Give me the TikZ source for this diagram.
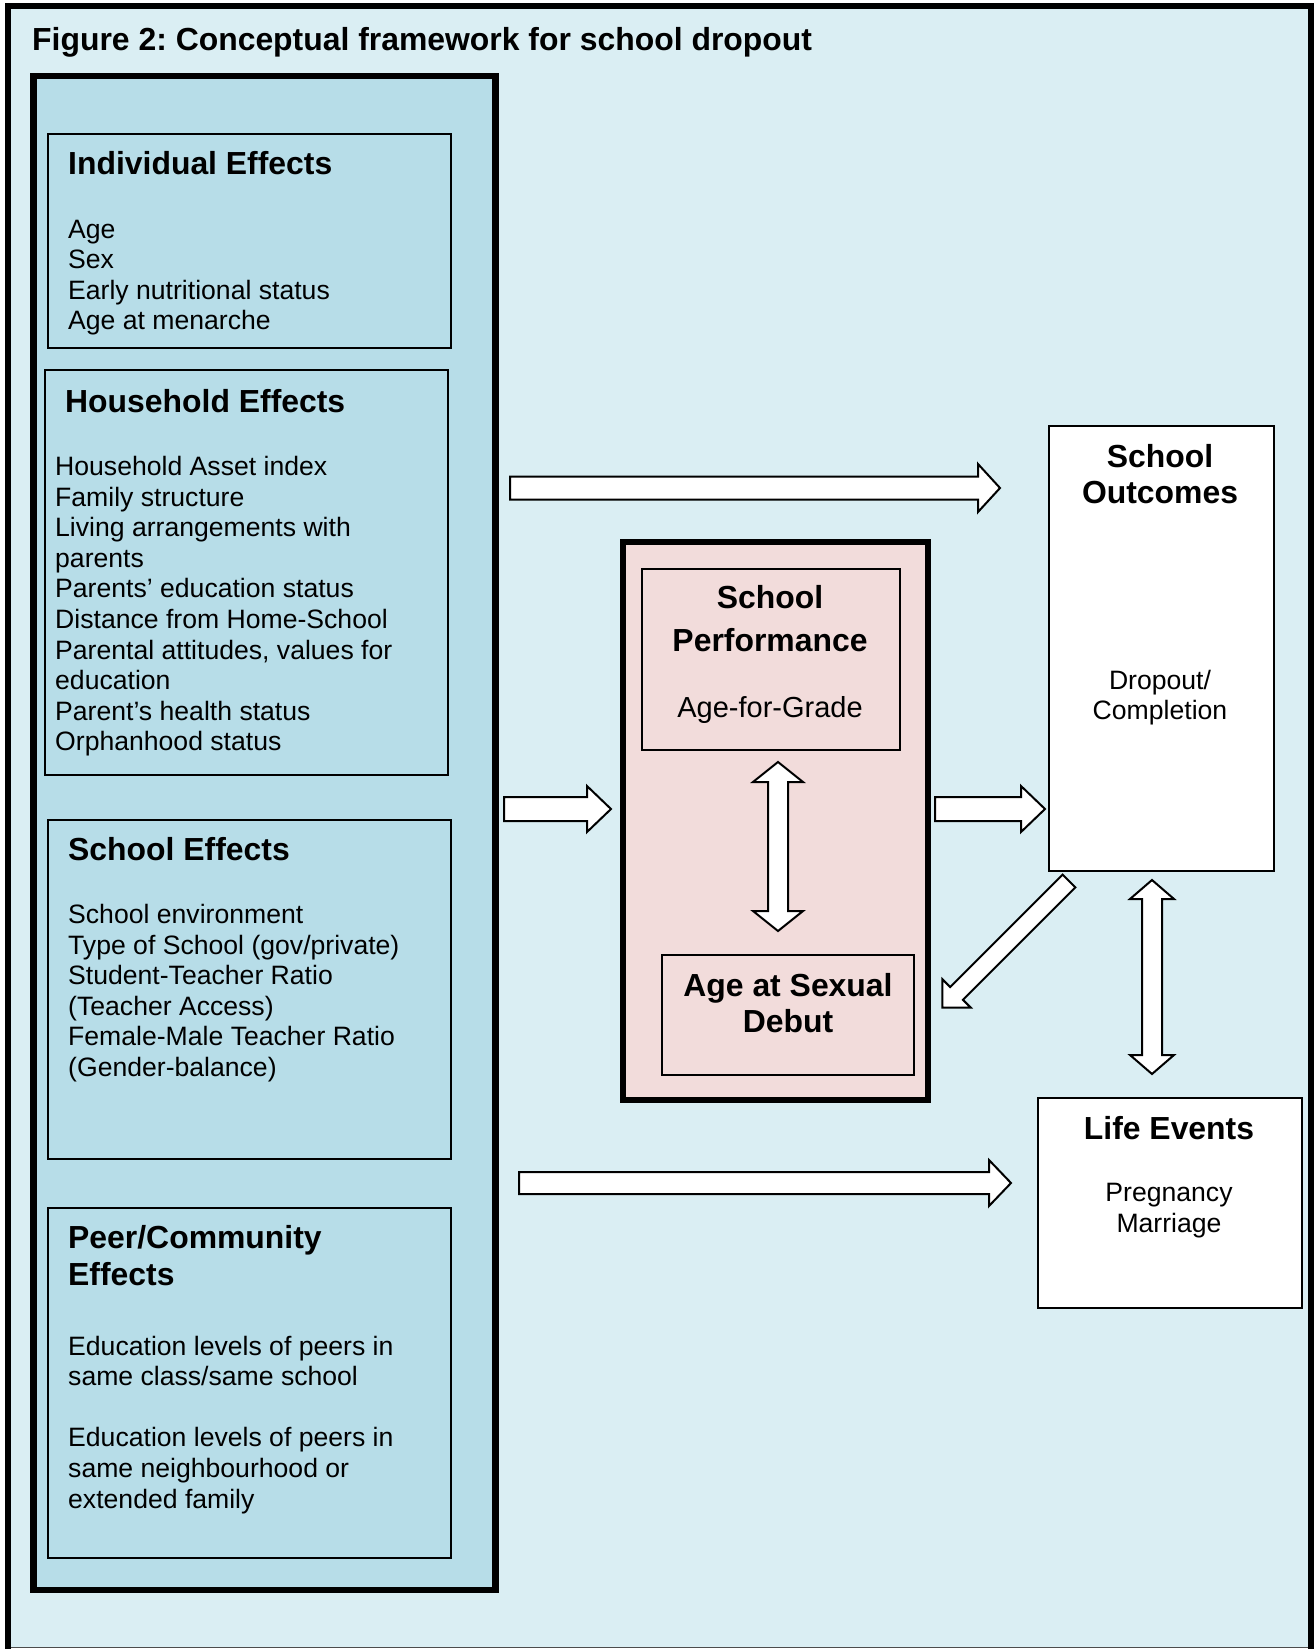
\documentclass[tikz,border=0pt]{standalone}
\usepackage{fontspec}
\setmainfont{Liberation Sans}
\frenchspacing
\definecolor{outerblue}{HTML}{DAEEF3}
\definecolor{innerblue}{HTML}{B7DDE8}
\definecolor{pinkfill}{HTML}{F2DCDB}
\newcommand\myhead{\fontsize{31.9}{36.7}\selectfont\bfseries}
\newcommand\mybody{\fontsize{26.6}{30.6}\selectfont}
\newcommand\leftpar[1]{\parbox[t]{420pt}{\raggedright #1}}
\newcommand\midpar[1]{\parbox[t]{300pt}{\centering #1}}
\tikzset{
  thinbox/.style={draw=black, line width=2pt, anchor=north west, inner sep=0pt},
  txt/.style={inner sep=0pt, anchor=base west},
  ctxt/.style={inner sep=0pt, anchor=base},
  arrowline/.style={draw=black, line width=2pt, fill=white, line join=miter}
}
% single block arrow: tail coordinate, angle, length, shaft half, head half, head length
\newcommand\blockarrow[6]{%
  \begin{scope}[shift={(#1)}, rotate=#2]
    \draw[arrowline] (0,-#4) -- ({#3-#6},-#4) -- ({#3-#6},-#5) -- (#3,0)
      -- ({#3-#6},#5) -- ({#3-#6},#4) -- (0,#4) -- cycle;
  \end{scope}}
% double block arrow: first tip coordinate, angle, length, shaft half, head half, head length
\newcommand\doublearrow[6]{%
  \begin{scope}[shift={(#1)}, rotate=#2]
    \draw[arrowline] (0,0) -- (#6,-#5) -- (#6,-#4) -- ({#3-#6},-#4) -- ({#3-#6},-#5)
      -- (#3,0) -- ({#3-#6},#5) -- ({#3-#6},#4) -- (#6,#4) -- (#6,#5) -- cycle;
  \end{scope}}
\begin{document}
\begin{tikzpicture}[x=1pt,y=-1pt]
\useasboundingbox (0,0) rectangle (1314,1649);
\fill[white] (0,0) rectangle (1314,1649);
% outer frame
\fill[outerblue] (8,6) rectangle (1311,1648);
\draw[gray!60!black, line width=1.5pt] (8,1647.5) -- (1311,1647.5);
\draw[black, line width=6.5pt, line join=miter] (8,1649) -- (8,6) -- (1311,6) -- (1311,1649);
\node[txt] (title) at (32,50.5) {\myhead Figure 2: Conceptual framework for school dropout};
% big left container
\node[draw=black, fill=innerblue, line width=6.5pt, anchor=north west, inner sep=0pt,
      minimum width=462pt, minimum height=1514pt] (left) at (30,72.5) {};
% individual
\node[thinbox, minimum width=403pt, minimum height=214pt] (indiv) at (47,133) {};
\node[txt] (indivh) at (68,174.5) {\myhead Individual Effects};
\node[txt] (indivb) at (68,238) {\mybody\leftpar{Age\\Sex\\Early nutritional status\\Age at menarche}};
% household
\node[thinbox, minimum width=403pt, minimum height=405pt] (house) at (44,369) {};
\node[txt] (househ) at (65,412) {\myhead Household Effects};
\node[txt] (houseb) at (55,475.5) {\mybody\leftpar{Household Asset index\\Family structure\\Living arrangements with\\parents\\Parents’ education status\\Distance from Home-School\\Parental attitudes, values for\\education\\Parent’s health status\\Orphanhood status}};
% school effects
\node[thinbox, minimum width=403pt, minimum height=339pt] (schooleff) at (47,819) {};
\node[txt] (schoolh) at (68,860.5) {\myhead School Effects};
\node[txt] (schoolb) at (68,923.5) {\mybody\leftpar{School environment\\Type of School (gov/private)\\Student-Teacher Ratio\\(Teacher Access)\\Female-Male Teacher Ratio\\(Gender-balance)}};
% peer
\node[thinbox, minimum width=403pt, minimum height=350pt] (peer) at (47,1207) {};
\node[txt] (peerh) at (68,1248.5) {\myhead\leftpar{Peer/Community\\Effects}};
\node[txt] (peerb) at (68,1355) {\mybody\leftpar{Education levels of peers in\\same class/same school\\[30.6pt]Education levels of peers in\\same neighbourhood or\\extended family}};
% middle pink container
\node[draw=black, fill=pinkfill, line width=6pt, anchor=north west, inner sep=0pt,
      minimum width=305pt, minimum height=558pt] (mid) at (620,539) {};
\node[thinbox, minimum width=258pt, minimum height=181pt] (perf) at (641,568) {};
\node[ctxt] (perfh) at (770,608) {\myhead\midpar{School\\[6.3pt]Performance}};
\node[ctxt] (perfb) at (770,717) {\fontsize{29}{33}\selectfont Age-for-Grade};
\node[thinbox, minimum width=252pt, minimum height=120pt] (debut) at (661,954) {};
\node[ctxt] (debuth) at (788,996) {\myhead\midpar{Age at Sexual\\Debut}};
% outcomes
\node[thinbox, fill=white, minimum width=225pt, minimum height=445pt] (outc) at (1048,425) {};
\node[ctxt] (outch) at (1160,467) {\myhead\midpar{School\\Outcomes}};
\node[ctxt] (outcb) at (1160,689) {\mybody\midpar{Dropout/\\Completion}};
% life events
\node[thinbox, fill=white, minimum width=264pt, minimum height=210pt] (life) at (1037,1097) {};
\node[ctxt] (lifeh) at (1169,1139.5) {\myhead Life Events};
\node[ctxt] (lifeb) at (1169,1201.5) {\mybody\midpar{Pregnancy\\Marriage}};
% arrows
\coordinate (a1) at (510,488);
\coordinate (a2) at (504,809);
\coordinate (a3) at (935,809);
\coordinate (a4) at (519,1183);
\coordinate (a5) at (778,931);
\coordinate (a6) at (1152,1074);
\coordinate (a7) at (1069,881);
\blockarrow{a1}{0}{490}{11.5}{24}{22}
\blockarrow{a2}{0}{107}{12}{23}{24}
\blockarrow{a3}{0}{110}{12}{23}{24}
\blockarrow{a4}{0}{492}{11}{23}{22}
\doublearrow{a5}{90}{169}{10}{25}{20}
\doublearrow{a6}{90}{194}{10}{22}{19}
\blockarrow{a7}{225}{179}{9}{20}{20}
\end{tikzpicture}
\end{document}
